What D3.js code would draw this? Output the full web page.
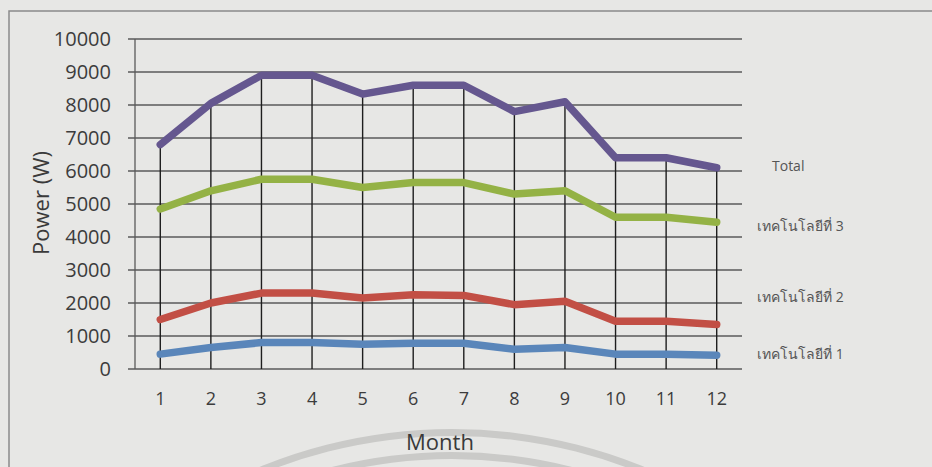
<!DOCTYPE html>
<html>
<head>
<meta charset="utf-8">
<script src="https://cdn.jsdelivr.net/npm/d3@7"></script>
<style>
  body { margin: 0; background: #e7e7e5; }
  text { font-family: "Open Sans", "Noto Sans", "DejaVu Sans", sans-serif; }
</style>
</head>
<body>
<div id="chart"></div>
<script>
var months = [1, 2, 3, 4, 5, 6, 7, 8, 9, 10, 11, 12];
var yTicks = [0, 1000, 2000, 3000, 4000, 5000, 6000, 7000, 8000, 9000, 10000];

var tech1 = [450, 650, 800, 800, 750, 780, 780, 600, 650, 450, 450, 420];
var tech2 = [1500, 2000, 2300, 2300, 2150, 2250, 2230, 1950, 2050, 1450, 1450, 1350];
var tech3 = [4850, 5400, 5750, 5750, 5500, 5650, 5650, 5300, 5400, 4600, 4600, 4450];
var total = [6800, 8050, 8900, 8900, 8330, 8600, 8600, 7800, 8100, 6400, 6400, 6100];

var seriesNames = ["เทคโนโลยีที่ 1", "เทคโนโลยีที่ 2", "เทคโนโลยีที่ 3", "Total"];
var seriesColors = ["#5a86ba", "#c24f45", "#94b245", "#65578f"];

var chart_width = 932;
var chart_height = 467;
var plot_left = 135, plot_right = 742, plot_top = 39, plot_bottom = 369;

var svg = d3
  .select("#chart")
  .append("svg")
  .attr("width", chart_width)
  .attr("height", chart_height);

// page border (only top and left visible in the scan)
svg.append("path")
  .attr("d", "M9," + chart_height + " V11 H" + chart_width)
  .attr("fill", "none")
  .attr("stroke", "#8a8a8a")
  .attr("stroke-width", 1.5);

// faint watermark arcs at the bottom
var arc = d3.arc();
[[500, 507], [482, 489]].forEach(function(r, i) {
  svg.append("path")
    .attr("transform", "translate(452," + (i === 0 ? 936 : 941) + ")")
    .attr("d", arc({ innerRadius: r[0], outerRadius: r[1], startAngle: -0.5, endAngle: 0.5 }))
    .attr("fill", "#cacac8");
});

var x_scale = d3.scaleBand().domain(months).range([plot_left, plot_right]);
var y_scale = d3.scaleLinear().domain([0, 10000]).range([plot_bottom, plot_top]);
function cx(m) { return x_scale(m) + x_scale.bandwidth() / 2; }

// horizontal gridlines
svg.append("g")
  .selectAll("line")
  .data(yTicks)
  .enter()
  .append("line")
  .attr("x1", plot_left - 7)
  .attr("x2", plot_right)
  .attr("y1", function(d) { return y_scale(d); })
  .attr("y2", function(d) { return y_scale(d); })
  .attr("stroke", "#5a5a5a")
  .attr("stroke-width", 1.3);

// y axis line
svg.append("line")
  .attr("x1", plot_left).attr("x2", plot_left)
  .attr("y1", plot_top).attr("y2", plot_bottom)
  .attr("stroke", "#5a5a5a")
  .attr("stroke-width", 1.3);

// drop lines from the top series
svg.append("g")
  .selectAll("line")
  .data(months)
  .enter()
  .append("line")
  .attr("x1", cx).attr("x2", cx)
  .attr("y1", function(d, i) { return y_scale(total[i]); })
  .attr("y2", plot_bottom)
  .attr("stroke", "#1e1e1e")
  .attr("stroke-width", 1.4);

// lines
var allSeries = [tech1, tech2, tech3, total];
var line = d3.line()
  .x(function(d, i) { return cx(months[i]); })
  .y(function(d) { return y_scale(d); });

svg.append("g")
  .selectAll("path")
  .data(allSeries)
  .enter()
  .append("path")
  .attr("d", line)
  .attr("fill", "none")
  .attr("stroke", function(d, i) { return seriesColors[i]; })
  .attr("stroke-width", 7.5)
  .attr("stroke-linejoin", "round")
  .attr("stroke-linecap", "round");

// y tick labels
svg.append("g")
  .selectAll("text")
  .data(yTicks)
  .enter()
  .append("text")
  .attr("x", 111)
  .attr("y", function(d) { return y_scale(d) + 7; })
  .attr("text-anchor", "end")
  .attr("font-size", 20)
  .attr("fill", "#3c3c3c")
  .text(function(d) { return d; });

// x tick labels
svg.append("g")
  .selectAll("text")
  .data(months)
  .enter()
  .append("text")
  .attr("x", cx)
  .attr("y", 405)
  .attr("text-anchor", "middle")
  .attr("font-size", 18)
  .attr("fill", "#3c3c3c")
  .text(function(d) { return d; });

// axis titles
svg.append("text")
  .attr("x", 440)
  .attr("y", 450)
  .attr("text-anchor", "middle")
  .attr("font-size", 22)
  .attr("fill", "#3a3a3a")
  .text("Month");

svg.append("text")
  .attr("transform", "translate(49,203) rotate(-90)")
  .attr("text-anchor", "middle")
  .attr("font-size", 22)
  .attr("fill", "#3a3a3a")
  .text("Power (W)");

// series labels on the right
var labelY = [354, 297, 226, 166];
svg.append("g")
  .selectAll("text")
  .data(seriesNames)
  .enter()
  .append("text")
  .attr("x", function(d, i) { return i === 3 ? 772 : 757; })
  .attr("y", function(d, i) { return labelY[i] + 5; })
  .attr("font-size", 14)
  .attr("fill", "#555")
  .text(function(d) { return d; });
</script>
</body>
</html>
